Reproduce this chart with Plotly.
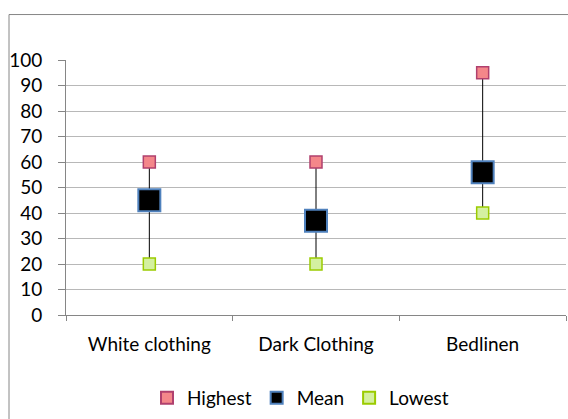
import plotly.graph_objects as go

categories = ["White clothing", "Dark Clothing", "Bedlinen"]
highest = [60, 60, 95]
mean = [45, 37, 56]
lowest = [20, 20, 40]

W, H = 568, 419
L, R, T, B = 66, 2, 60, 101
pw, ph = W - L - R, H - T - B

xs = list(range(len(categories)))

# high-low connector lines
line_x, line_y = [], []
for i in xs:
    line_x += [i, i, None]
    line_y += [lowest[i], highest[i], None]

fig = go.Figure()
fig.add_trace(go.Scatter(x=line_x, y=line_y, mode="lines",
                         line=dict(color="black", width=1),
                         showlegend=False, hoverinfo="skip"))
fig.add_trace(go.Scatter(x=xs, y=highest, mode="markers", name="Highest",
                         marker=dict(symbol="square", size=12, color="#F4878A",
                                     line=dict(color="#B0406E", width=1.5))))
fig.add_trace(go.Scatter(x=xs, y=mean, mode="markers", name="Mean",
                         marker=dict(symbol="square", size=22, color="black",
                                     line=dict(color="#4F81BD", width=2))))
fig.add_trace(go.Scatter(x=xs, y=lowest, mode="markers", name="Lowest",
                         marker=dict(symbol="square", size=12, color="#D4F0A0",
                                     line=dict(color="#9BCB00", width=1.5))))

font = "Lato, 'Open Sans', sans-serif"
fs = 19

fig.update_layout(
    width=W, height=H,
    margin=dict(l=L, r=R, t=T, b=B, pad=0),
    paper_bgcolor="white", plot_bgcolor="white",
    font=dict(family=font, size=fs, color="black"),
    showlegend=True,
    legend=dict(orientation="h", x=(147 - L) / pw, xanchor="left",
                y=(T + ph - 402) / ph, yanchor="middle",
                font=dict(size=fs), itemsizing="constant",
                itemwidth=30, tracegroupgap=0, bgcolor="rgba(0,0,0,0)"),
    xaxis=dict(range=[-0.5, 2.5], tickmode="array", tickvals=xs,
               ticktext=categories, ticks="", showgrid=False,
               showline=True, linecolor="#868686", linewidth=1,
               zeroline=False, ticklabelstandoff=12,
               minor=dict(tickmode="array", tickvals=[-0.5, 0.5, 1.5, 2.5],
                          ticks="outside", ticklen=5, tickcolor="#868686",
                          showgrid=False)),
    yaxis=dict(range=[0, 100], dtick=10, tick0=0, ticks="outside",
               ticklen=7, tickcolor="#868686", showgrid=True,
               gridcolor="#B8B8B8", gridwidth=1, showline=True,
               linecolor="#868686", linewidth=1, zeroline=False,
               ticklabelstandoff=12),
    shapes=[dict(type="rect", xref="paper", yref="paper",
                 x0=(9 - L) / pw, x1=1.2, y0=-0.6, y1=(T + ph - 14) / ph,
                 line=dict(color="#868686", width=1), fillcolor="rgba(0,0,0,0)",
                 layer="below")],
)

fig.write_html("out.html")
